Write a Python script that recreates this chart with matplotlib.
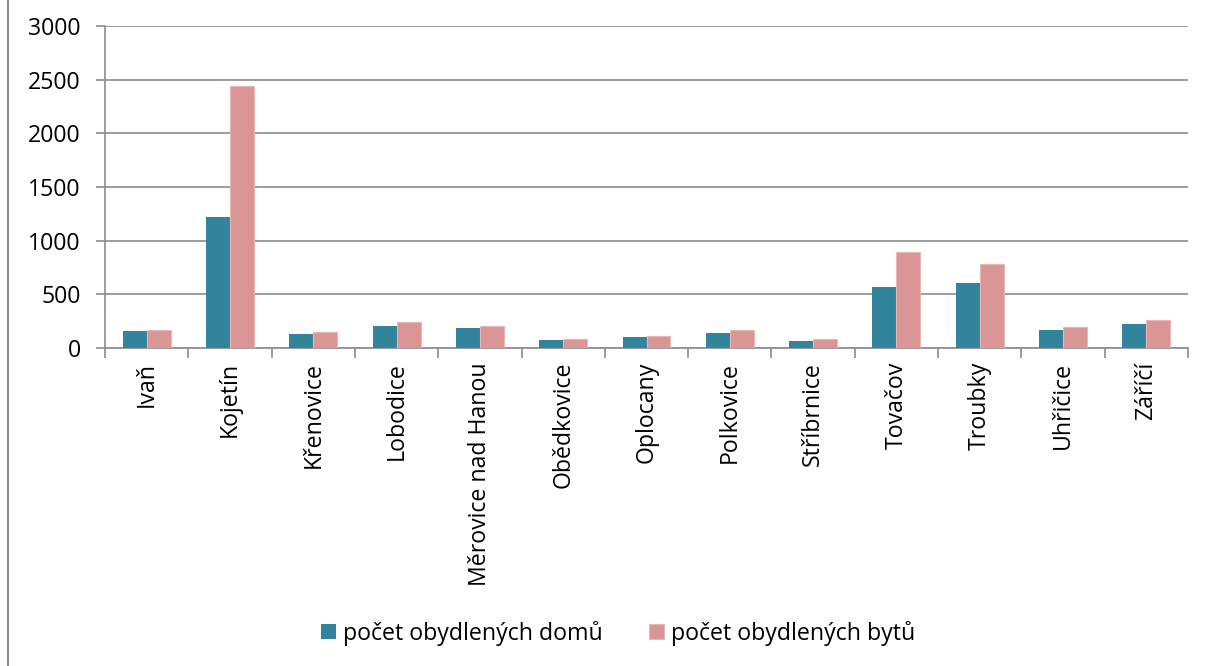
import matplotlib.pyplot as plt
import numpy as np
from matplotlib.lines import Line2D

plt.rcParams['font.family'] = ['Open Sans', 'DejaVu Sans']

obce = ["Ivaň", "Kojetín", "Křenovice", "Lobodice", "Měrovice nad Hanou",
        "Obědkovice", "Oplocany", "Polkovice", "Stříbrnice", "Tovačov",
        "Troubky", "Uhřičice", "Záříčí"]

domy = [156, 1217, 128, 203, 184, 72, 103, 144, 66, 572, 603, 172, 225]
byty = [172, 2438, 153, 241, 209, 81, 116, 172, 81, 891, 781, 194, 259]

labels = ["počet obydlených domů", "počet obydlených bytů"]


fig = plt.figure(figsize=(12.06, 6.66), dpi=100)
ax = fig.add_axes([105/1206, 1 - 348/666, (1188-105)/1206, (348-26)/666])

x = np.arange(len(obce))
w = 0.288

ax.bar(x - w/2, domy, w, color="#31849B", label=labels[0], zorder=3)
ax.bar(x + w/2, byty, w, color="#D99694", edgecolor="#E8B7B5",
       linewidth=0.8, label=labels[1], zorder=3)

ax.set_xlim(-0.5, len(obce) - 0.5)
ax.set_ylim(0, 3000)
ax.set_yticks(range(0, 3001, 500))

# osa x: tick mezi kategoriemi jako v Excelu
ax.set_xticks(np.arange(-0.5, len(obce)), minor=False)
ax.set_xticklabels([])
ax.set_xticks(x, minor=True)
ax.set_xticklabels(obce, minor=True, rotation=90, va="top", ha="center")
ax.tick_params(axis="x", which="minor", length=0, pad=10, labelsize=16.7)
ax.tick_params(axis="x", which="major", length=7, width=1.2, color="#8C8C8C")
ax.tick_params(axis="y", length=6.5, width=1.2, color="#8C8C8C",
               labelsize=16.7, pad=11)

ax.grid(axis="y", color="#8C8C8C", linewidth=1.2, zorder=0)

for s in ["top", "right"]:
    ax.spines[s].set_visible(False)
for s in ["left", "bottom"]:
    ax.spines[s].set_color("#8C8C8C")
    ax.spines[s].set_linewidth(1.2)

fig.legend(loc="center", bbox_to_anchor=(0.5124, 1 - 633/666), ncol=2,
           frameon=False, fontsize=16.7, handlelength=0.65, handleheight=0.65,
           handletextpad=0.3, columnspacing=2.0)

# okraj grafu vlevo
fig.add_artist(Line2D([8/1206, 8/1206], [0, 1], color="#8C8C8C",
                      linewidth=1.5, transform=fig.transFigure))

fig.savefig("out.png", dpi=100)
